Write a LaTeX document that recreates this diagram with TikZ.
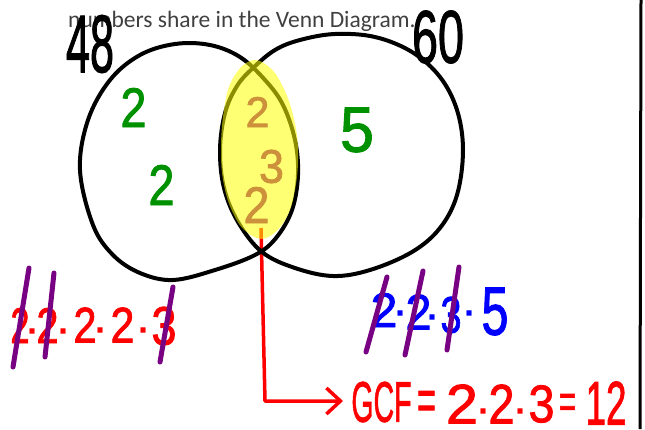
\documentclass[tikz,border=0pt]{standalone}
\usepackage{graphicx}
\usepackage{fontspec}
\setmainfont{Liberation Sans}
\newfontfamily\uifont{Carlito}
\newfontfamily\handfont[UprightFeatures={FakeBold=1.6}]{Liberation Sans}
\usetikzlibrary{arrows.meta}
\definecolor{hgreen}{RGB}{0,145,0}
\definecolor{hbrown}{RGB}{205,145,60}
\definecolor{hpurple}{RGB}{120,0,130}
\definecolor{hyellow}{RGB}{255,255,0}
\definecolor{hgray}{RGB}{64,64,64}
\newcommand{\handtxt}[3]{\resizebox{#1pt}{#2pt}{\handfont #3}}
\newcommand{\handdot}{\fontsize{36}{36}\bfseries\selectfont ·}
\begin{document}
\begin{tikzpicture}[x=1pt,y=-1pt,
  hand/.style={inner sep=0pt, outer sep=0pt, anchor=center},
  heq/.style={inner sep=0pt, outer sep=0pt, anchor=south},
  hdot/.style={inner sep=0pt, outer sep=0pt, anchor=base},
  circ/.style={line width=4pt, line join=round, black},
  slash/.style={line width=5pt, line cap=round, hpurple},
  redline/.style={line width=3.5pt, red, line join=round}]
\useasboundingbox (0,0) rectangle (645,429);
\fill[white] (0,0) rectangle (645,429);

% heading text
\node[anchor=base west, inner sep=0pt, text=hgray, font=\uifont\fontsize{23.5}{23.5}\selectfont] (head) at (68,27) {numbers share in the Venn Diagram.};

% right rule
\coordinate (rt) at (641,0);
\coordinate (rb) at (640,429);
\draw[line width=3pt] (rt) -- (rb);

% red connector (under highlight)
\coordinate (rs) at (261,228);
\coordinate (rc) at (265,401);
\coordinate (re) at (343,401);
\draw[redline, -{Straight Barb[length=14pt,width=26pt,line width=3.5pt]}] (rs) -- (rc) -- (re);

% circles
\draw[circ] plot[smooth cycle, tension=0.6] coordinates {
 (80,170) (88,120) (110,80) (140,55) (175,44) (210,45) (240,57) (265,80) (283,105)
 (295,140) (298,175) (292,210) (276,238) (255,255) (215,270) (173,280) (140,273) (113,255) (93,225)};
\draw[circ] plot[smooth cycle, tension=0.6] coordinates {
 (253,68) (275,50) (300,40) (335,34) (375,37) (412,52) (440,77) (457,110) (463,150)
 (457,195) (440,228) (412,252) (370,270) (333,276) (295,268) (262,252) (238,222) (224,188)
 (220,150) (225,113) (237,86)};

% highlight lens
\fill[hyellow, opacity=0.55] plot[smooth cycle, tension=0.7] coordinates {
 (250,61) (268,66) (282,85) (293,115) (298,150) (295,190) (285,220) (266,238)
 (248,233) (234,215) (224,185) (221,150) (224,110) (232,80)};

% numbers 48 and 60
\node[hand] (n48) at (90,44) {\handtxt{48}{57}{48}};
\node[hand] (n60) at (438,37) {\handtxt{52}{52}{60}};

% left only
\node[hand, text=hgreen] (gl1) at (133.5,107.5) {\handtxt{26}{39}{2}};
\node[hand, text=hgreen] (gl2) at (161.5,185) {\handtxt{26}{40}{2}};
% right only
\node[hand, text=hgreen] (gr1) at (357,130) {\handtxt{34}{44}{5}};
% shared
\node[hand, text=hbrown] (s1) at (257.5,112) {\handtxt{24}{30}{2}};
\node[hand, text=hbrown] (s2) at (271.5,166.5) {\handtxt{25}{33}{3}};
\node[hand, text=hbrown] (s3) at (256.5,205) {\handtxt{26}{36}{2}};

% 48 factors
\node[hand, text=red] (a1) at (20,325.5) {\handtxt{19}{35}{2}};
\node[hdot, text=red] (ad1) at (33,343) {\handdot};
\node[hand, text=red] (a2) at (47.5,325.5) {\handtxt{22}{35}{2}};
\node[hdot, text=red] (ad2) at (64,343) {\handdot};
\node[hand, text=red] (a3) at (85,325) {\handtxt{23}{35}{2}};
\node[hdot, text=red] (ad3) at (101,342) {\handdot};
\node[hand, text=red] (a4) at (122.5,325) {\handtxt{24}{35}{2}};
\node[hdot, text=red] (ad4) at (144,342) {\handdot};
\node[hand, text=red] (a5) at (164,326) {\handtxt{25}{38}{3}};
\coordinate (p1a) at (29,268); \coordinate (p1b) at (13,367);
\coordinate (p2a) at (54,273); \coordinate (p2b) at (45,357);
\coordinate (p3a) at (173,287); \coordinate (p3b) at (160,362);
\draw[slash] (p1a) -- (p1b);
\draw[slash] (p2a) -- (p2b);
\draw[slash] (p3a) -- (p3b);

% 60 factors
\node[hand, text=blue] (b1) at (384,310) {\handtxt{27}{34}{2}};
\node[hdot, text=blue] (bd1) at (401,325) {\handdot};
\node[hand, text=blue] (b2) at (418.5,312) {\handtxt{26}{35}{2}};
\node[hdot, text=blue] (bd2) at (433,329) {\handdot};
\node[hand, text=blue] (b3) at (451,315) {\handtxt{21}{36}{3}};
\node[hdot, text=blue] (bd3) at (470,325) {\handdot};
\node[hand, text=blue] (b4) at (495,311.5) {\handtxt{27}{47}{5}};
\coordinate (q1a) at (387,277); \coordinate (q1b) at (366,352);
\coordinate (q2a) at (423,271); \coordinate (q2b) at (405,355);
\coordinate (q3a) at (459,267); \coordinate (q3b) at (447,350);
\draw[slash] (q1a) -- (q1b);
\draw[slash] (q2a) -- (q2b);
\draw[slash] (q3a) -- (q3b);

% GCF line
\node[hand, text=red] (g1) at (381.5,402) {\handtxt{60}{40}{GCF}};
\node[heq, text=red] (g2) at (426.5,420) {\handtxt{19}{29}{=}};
\node[hand, text=red] (g3) at (462,404) {\handtxt{32}{39}{2}};
\node[hdot, text=red] (g4) at (484,423) {\handdot};
\node[hand, text=red] (g5) at (501.5,404) {\handtxt{26}{39}{2}};
\node[hdot, text=red] (g6) at (521,423) {\handdot};
\node[hand, text=red] (g7) at (541.5,404) {\handtxt{26}{37}{3}};
\node[heq, text=red] (g8) at (567.5,418) {\handtxt{17}{24}{=}};
\node[hand, text=red] (g9) at (606,403) {\handtxt{41}{43}{12}};
\end{tikzpicture}
\end{document}
